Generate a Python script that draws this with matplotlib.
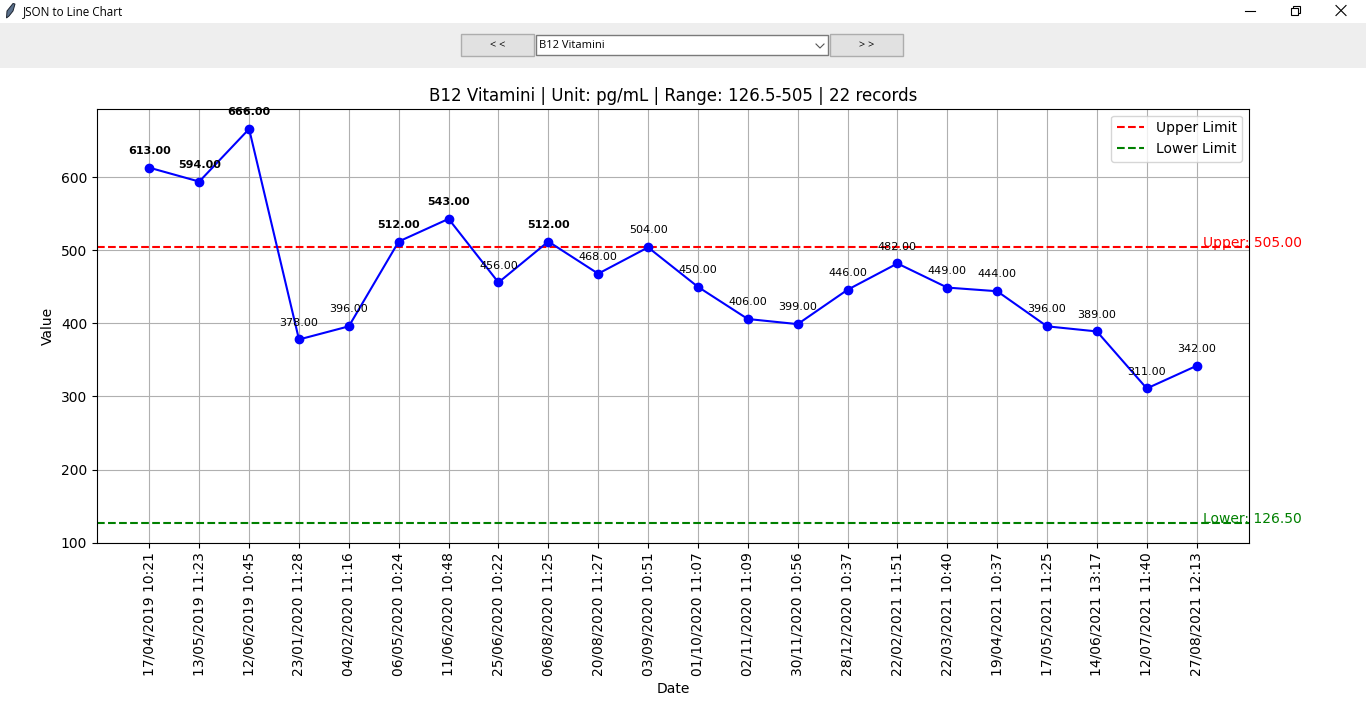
import matplotlib
matplotlib.use("Agg")
import matplotlib.pyplot as plt
from matplotlib.patches import Rectangle, Polygon
from matplotlib.lines import Line2D

dates = ["17/04/2019 10:21", "13/05/2019 11:23", "12/06/2019 10:45", "23/01/2020 11:28",
         "04/02/2020 11:16", "06/05/2020 10:24", "11/06/2020 10:48", "25/06/2020 10:22",
         "06/08/2020 11:25", "20/08/2020 11:27", "03/09/2020 10:51", "01/10/2020 11:07",
         "02/11/2020 11:09", "30/11/2020 10:56", "28/12/2020 10:37", "22/02/2021 11:51",
         "22/03/2021 10:40", "19/04/2021 10:37", "17/05/2021 11:25", "14/06/2021 13:17",
         "12/07/2021 11:40", "27/08/2021 12:13"]
values = [613, 594, 666, 378, 396, 512, 543, 456, 512, 468, 504, 450,
          406, 399, 446, 482, 449, 444, 396, 389, 311, 342]
upper = 505.0
lower = 126.5
title = "B12 Vitamini | Unit: pg/mL | Range: 126.5-505 | 22 records"

W, H = 1366, 703
fig = plt.figure(figsize=(W / 100, H / 100), dpi=100, facecolor="white")


def fx(px):
    return px / W


def fy(py):
    return 1 - py / H


def box(x0, y0, x1, y1, face, edge="none", lw=1.0):
    fig.add_artist(Rectangle((fx(x0), fy(y1)), (x1 - x0) / W, (y1 - y0) / H, transform=fig.transFigure,
                             facecolor=face, edgecolor=edge, linewidth=lw))


def seg(xs, ys, color="black", lw=1.0):
    fig.add_artist(Line2D([fx(v) for v in xs], [fy(v) for v in ys], transform=fig.transFigure,
                          color=color, linewidth=lw))


# Window chrome
box(0, 23, W, 68, "#eeeeee")
fig.text(fx(23), fy(12), "JSON to Line Chart", fontsize=8.35, family="Open Sans", color="black", va="center")
fig.add_artist(Polygon([(fx(6.5), fy(18)), (fx(7), fy(11)), (fx(13), fy(3.5)), (fx(15), fy(4)), (fx(13), fy(11)), (fx(9), fy(16))],
                       closed=True, transform=fig.transFigure, facecolor="#5a708c", edgecolor="#1c2430", linewidth=0.7))
seg([1245, 1255], [10.5, 10.5], lw=0.8)
box(1293, 6, 1300, 13, "none", "black", 0.8)
box(1291, 8, 1298, 15, "white", "black", 0.8)
seg([1336, 1346], [5.5, 15.5], lw=0.8)
seg([1336, 1346], [15.5, 5.5], lw=0.8)

# Toolbar controls
box(461, 34, 534, 56, "#e1e1e1", "#adadad")
box(830, 34, 903, 56, "#e1e1e1", "#adadad")
box(536, 35, 828, 55, "white", "#7a7a7a")
fig.text(fx(498), fy(46), "< <", fontsize=7.8, family="Open Sans", ha="center", va="center")
fig.text(fx(867), fy(46), "> >", fontsize=7.8, family="Open Sans", ha="center", va="center")
fig.text(fx(539), fy(45.5), "B12 Vitamini", fontsize=8, family="Open Sans", va="center")
seg([816, 820, 824], [44, 48, 44], color="#555555", lw=0.8)

# Chart
ax = fig.add_axes([97 / W, 1 - 542.7 / H, (1249 - 97) / W, (542.7 - 108.7) / H])
xs = list(range(len(dates)))
ax.plot(xs, values, color="blue", marker="o", linestyle="-", zorder=3)
ax.axhline(upper, color="red", linestyle="--", label="Upper Limit")
ax.axhline(lower, color="green", linestyle="--", label="Lower Limit")
ax.set_xlim(-1.05, 22.05)
ax.set_ylim(100, 693.7)
ax.set_xticks(xs)
ax.set_xticklabels(dates, rotation=90)
ax.set_yticks([100, 200, 300, 400, 500, 600])
ax.grid(True)
ax.set_title(title, fontsize=12, pad=5.3)
ax.set_xlabel("Date")
ax.set_ylabel("Value")
ax.legend(loc="upper right")

for x, v in zip(xs, values):
    ax.annotate(f"{v:.2f}", (x, v), textcoords="offset points", xytext=(0, 10), ha="center", fontsize=8,
                fontweight="bold" if v > upper else "normal", annotation_clip=False)

ax.text(21.12, upper, f"Upper: {upper:.2f}", color="red", ha="left", clip_on=False)
ax.text(21.12, lower, f"Lower: {lower:.2f}", color="green", ha="left", clip_on=False)

fig.savefig("out.png", dpi=100, facecolor="white")
